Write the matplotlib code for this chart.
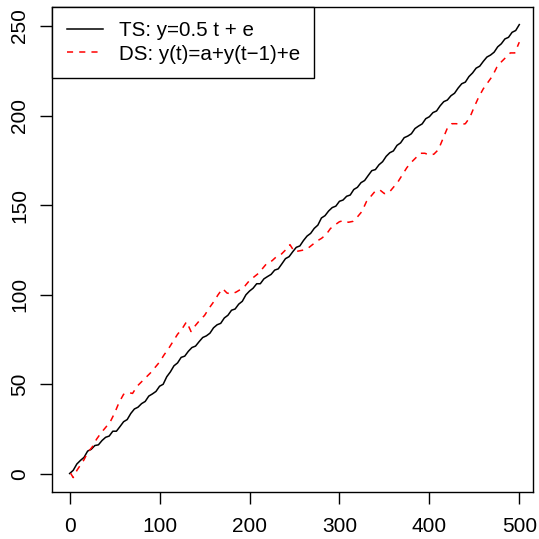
import matplotlib
matplotlib.use('Agg')
import matplotlib.pyplot as plt

# values
ts_t = list(range(0, 501, 4))
ts_y = [0.3, 2.1, 5.6, 7.6, 9.3, 12.8, 13.8, 15.9, 16.3, 18.7, 20.5, 21.2, 23.9,
        23.9, 26.5, 29.2, 30.4, 33.8, 36.3, 37.3, 39.3, 40.5, 43.5, 44.7, 46.1,
        49.0, 50.1, 54.3, 57.0, 60.4, 62.0, 65.1, 65.8, 68.5, 70.6, 71.4, 73.9,
        76.2, 77.1, 78.6, 81.6, 83.3, 84.1, 87.1, 88.6, 91.4, 92.1, 94.8, 96.4,
        100.0, 102.1, 103.7, 106.2, 106.2, 108.9, 110.2, 111.4, 113.8, 114.5,
        117.3, 120.2, 121.3, 124.0, 126.5, 127.3, 130.3, 132.8, 134.3, 137.1,
        138.9, 142.9, 144.2, 146.8, 148.7, 149.5, 152.2, 152.9, 155.0, 155.7,
        158.8, 160.0, 162.6, 163.8, 166.6, 169.3, 169.9, 172.6, 174.3, 177.3,
        179.3, 180.3, 183.4, 184.8, 187.7, 188.6, 189.9, 192.8, 194.2, 195.4,
        198.3, 199.4, 201.7, 202.6, 205.5, 207.8, 208.7, 211.1, 212.5, 215.4,
        217.8, 218.7, 221.8, 223.8, 226.5, 227.6, 230.3, 232.7, 233.8, 235.4,
        238.4, 240.1, 242.8, 243.7, 246.5, 247.5, 250.8]

ds_t = [1, 4, 8, 12, 16, 20, 25, 30, 35, 40, 45, 50, 55, 60, 65, 70, 75, 80, 85,
        90, 95, 100, 105, 110, 115, 120, 125, 130, 135, 140, 145, 150, 155, 160,
        165, 170, 175, 180, 185, 190, 195, 200, 205, 210, 215, 220, 225, 230,
        235, 240, 245, 250, 255, 260, 265, 270, 275, 280, 285, 290, 295, 300,
        305, 310, 315, 320, 325, 330, 335, 340, 345, 350, 355, 360, 365, 370,
        375, 380, 385, 390, 395, 400, 405, 410, 415, 420, 425, 430, 435, 440,
        445, 450, 455, 460, 465, 470, 475, 480, 485, 490, 495, 500]
ds_y = [0.5, -2, 2, 5, 8, 12, 15, 19.5, 23, 26, 29, 34, 40, 44.5, 45.5, 45, 49,
        51.5, 54, 56.5, 59.5, 62.5, 66.5, 70, 74, 78, 81, 85, 79.5, 83, 86,
        88.5, 92.5, 96, 100, 103.5, 101, 100.5, 101.5, 103, 105, 108, 110, 112,
        115, 118, 119, 121.3, 122.5, 125, 128, 124, 124.5, 125, 126, 128, 130,
        131.5, 133.5, 137, 139, 140.8, 141.5, 140.5, 141, 143.5, 146.5, 152,
        155, 158, 158.5, 156.5, 157, 160, 163, 167, 171, 174, 176.5, 179, 179,
        178, 178.5, 181, 187, 193, 195.5, 195.5, 195, 195.5, 199, 205, 210.5,
        215, 218.5, 222, 227, 230, 232.5, 235, 235, 241]

plt.rcParams['font.family'] = ['Liberation Sans', 'DejaVu Sans']

fig = plt.figure(figsize=(5.39, 5.39), dpi=100)
ax = fig.add_axes([0.097, 0.0866, 0.8913, 0.901])

ax.plot(ts_t, ts_y, color='black', lw=1.1, label='TS: y=0.5 t + e')
ax.plot(ds_t, ds_y, color='red', lw=1.1, dashes=(4, 4),
        label='DS: y(t)=a+y(t\u22121)+e')

ax.set_xlim(-19.3, 514.9)
ax.set_ylim(-10.2, 260.8)
ax.set_xticks([0, 100, 200, 300, 400, 500])
ax.set_yticks([0, 50, 100, 150, 200, 250])

for s in ax.spines.values():
    s.set_linewidth(1.0)
ax.tick_params(axis='both', direction='out', length=8.6, width=1.0, labelsize=15)
ax.tick_params(axis='x', pad=9)
ax.tick_params(axis='y', pad=8, labelrotation=90)
for lab in ax.get_yticklabels():
    lab.set_va('center')

leg = ax.legend(loc='upper left', borderaxespad=0, fancybox=False,
                edgecolor='black', framealpha=1, fontsize=14.8,
                handlelength=1.78, handletextpad=0.75, borderpad=0.7,
                labelspacing=0.22)
leg.get_frame().set_linewidth(1.0)

fig.savefig('out.png', dpi=100)
